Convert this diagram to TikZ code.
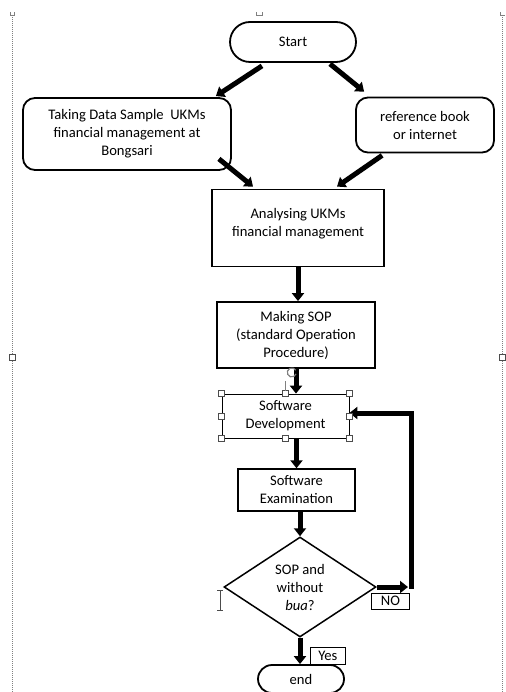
\documentclass[tikz,border=0pt]{standalone}
\usepackage{fontspec}
\setmainfont{Carlito}
\usetikzlibrary{arrows.meta,shapes.geometric}

\begin{document}
\begin{tikzpicture}[x=1pt,y=-1pt,
  every node/.style={font=\fontsize{14.6}{18}\selectfont,align=center,inner sep=0pt},
  terminal/.style={draw,line width=1.8pt},
  roundbox/.style={draw,line width=1.8pt,rounded corners=12pt},
  process/.style={draw,line width=1.8pt},
  decision/.style={draw,line width=1.5pt,diamond,aspect=1.52},
  tag/.style={draw,line width=0.8pt,align=left,anchor=west},
  flow/.style={line width=5pt,-{Triangle[length=8pt,width=12pt]}},
  frame/.style={gray,line width=0.6pt,dash pattern=on 1pt off 1pt},
  handle/.style={draw=black!70,fill=white,line width=0.6pt}
]
\useasboundingbox (0,0) rectangle (505,692);

% Word page frame
\draw[frame] (12,15) -- (12,692);
\draw[frame] (502,15) -- (502,692);
\draw[gray,line width=0.6pt] (10,12) -- (10,15) -- (14,15) -- (14,12);
\draw[gray,line width=0.6pt] (256,12) -- (256,15) -- (262,15) -- (262,12);
\draw[gray,line width=0.6pt] (500,12) -- (500,15) -- (505,15);
\draw[handle] (9,354) rectangle (15,360);
\draw[handle] (499,354) rectangle (505,360);

% Flowchart boxes
\node[terminal,rounded corners=20pt,minimum width=126,minimum height=40] (start) at (293,42) {Start};
\node[roundbox,minimum width=208,minimum height=72] (sample) at (127,134)
  {Taking Data Sample\ \ UKMs\\financial management at\\Bongsari};
\node[roundbox,minimum width=138,minimum height=55] (ref) at (425,125) {reference book\\or internet};
\node[process,minimum width=172,minimum height=77,text depth=12pt] (analyse) at (298,228)
  {Analysing UKMs\\financial management};
\node[process,minimum width=158,minimum height=66] (sop) at (296,335)
  {Making SOP\\(standard Operation\\Procedure)};
\node[draw,line width=0.8pt,minimum width=127,minimum height=44] (swdev) at (285.5,416)
  {Software\\Development};
\node[process,line width=1.4pt,minimum width=117,minimum height=42] (swexam) at (296.5,490)
  {Software\\Examination};
\node[decision,minimum width=152,minimum height=100] (dia) at (300,587)
  {SOP and\\without\\\textit{bua}?};
\node[terminal,rounded corners=14pt,minimum width=86,minimum height=28] (end) at (301,679) {end};

% Labels of the branches
\node[tag,minimum width=38,minimum height=16] (no) at (371,601) {NO};
\node[tag,minimum width=35,minimum height=17] (yes) at (310,655.5) {Yes};

% Arrows
\draw[flow] ([xshift=-31pt,yshift=-3pt]start.south) -- ([xshift=-16pt,yshift=1pt]sample.north east);
\draw[flow] ([xshift=37pt,yshift=-1pt]start.south) -- ([xshift=9pt,yshift=5pt]ref.north west);
\draw[flow] ([xshift=-13pt,yshift=12pt]sample.south east) -- ([xshift=-45pt,yshift=2pt]analyse.north);
\draw[flow] ([xshift=27pt,yshift=-2pt]ref.south west) -- ([xshift=39pt,yshift=2pt]analyse.north);
\draw[flow] (analyse.south) -- (analyse.south |- sop.north);
\draw[flow] (sop.south) -- (sop.south |- swdev.north);
\draw[flow] (swexam.north |- swdev.south) -- (swexam.north);
\draw[flow] (dia.north |- swexam.south) -- (dia.north);
\draw[flow] (dia.south) -- (dia.south |- end.north);

% Loop back when the check fails
\coordinate (noend) at (408,587);
\coordinate (bend) at (411,589);
\draw[flow] (dia.east) -- (noend);
\draw[flow] (bend) |- ([yshift=3pt]swdev.east);

% Selection handles of the editor
\foreach \a in {north west,north,north east,east,south east,south,south west,west}
  \draw[handle] ([xshift=-3pt,yshift=-3pt]swdev.\a) rectangle ([xshift=3pt,yshift=3pt]swdev.\a);
\draw[gray,line width=0.6pt] ([yshift=3pt]swdev.north) -- ++(0,-10);
\draw[gray,line width=1.2pt] (296,374) arc (20:330:4.5);
\draw[black!70,line width=0.6pt] (217,590) -- (223,590) (220,590) -- (220,610) (217,610) -- (223,610);

\end{tikzpicture}
\end{document}
